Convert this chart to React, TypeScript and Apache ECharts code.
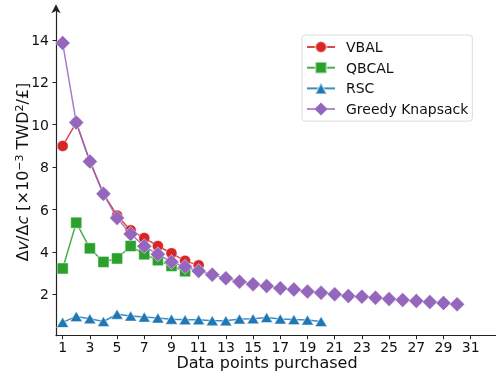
import React, { useEffect, useRef } from "react";
import * as echarts from "echarts";

// Number of data points purchased (x) for each method
const vbalX = [1, 2, 3, 4, 5, 6, 7, 8, 9, 10, 11];
const vbalY = [9.0, 10.1, 8.27, 6.74, 5.72, 5.02, 4.66, 4.28, 3.94, 3.58, 3.37];

const qbcalX = [1, 2, 3, 4, 5, 6, 7, 8, 9, 10];
const qbcalY = [3.22, 5.38, 4.17, 3.53, 3.69, 4.28, 3.89, 3.61, 3.34, 3.09];

const rscX = [1, 2, 3, 4, 5, 6, 7, 8, 9, 10, 11, 12, 13, 14, 15, 16, 17, 18, 19, 20];
const rscY = [0.68, 0.96, 0.85, 0.72, 1.06, 0.98, 0.93, 0.89, 0.83, 0.8, 0.8, 0.76, 0.75, 0.84, 0.85, 0.91, 0.84, 0.81, 0.79, 0.72];

const greedyX = [
  1, 2, 3, 4, 5, 6, 7, 8, 9, 10, 11, 12, 13, 14, 15,
  16, 17, 18, 19, 20, 21, 22, 23, 24, 25, 26, 27, 28, 29, 30,
];
const greedyY = [
  13.85, 10.1, 8.27, 6.74, 5.6, 4.85, 4.27, 3.89, 3.53, 3.3, 3.1, 2.93, 2.76, 2.6, 2.48,
  2.39, 2.29, 2.23, 2.13, 2.07, 2.0, 1.92, 1.89, 1.84, 1.78, 1.73, 1.69, 1.64, 1.59, 1.53,
];

const xTicks = [1, 3, 5, 7, 9, 11, 13, 15, 17, 19, 21, 23, 25, 27, 29, 31];
const yTicks = [2, 4, 6, 8, 10, 12, 14];

const FONT = "DejaVu Sans";

// Legend icon: a short line with a large diamond on it
const DIAMOND_ICON =
  "path://M0 6.25H28V7.75H0Z M14 0.5L20.5 7L14 13.5L7.5 7Z";

const pairs = (xs: number[], ys: number[]) => xs.map((x, i) => [x, ys[i]]);

export default function App() {
  const ref = useRef<HTMLDivElement>(null);

  useEffect(() => {
    if (!ref.current) return;
    const chart = echarts.init(ref.current, undefined, { renderer: "svg" });

    const mk = (
      name: string,
      xs: number[],
      ys: number[],
      color: string,
      symbol: string,
      size: number | number[],
      z: number
    ) => ({
      name,
      type: "line",
      data: pairs(xs, ys),
      symbol,
      symbolSize: size,
      z,
      lineStyle: { color, width: 1.5, opacity: 0.85 },
      itemStyle: {
        color,
        borderColor: "rgba(255,255,255,0.45)",
        borderWidth: 1,
      },
      emphasis: { disabled: true },
    });

    chart.setOption({
      animation: false,
      textStyle: { fontFamily: FONT },
      grid: {
        left: 56,
        right: 0,
        top: 8.3,
        bottom: 37.3,
        containLabel: false,
        outerBoundsMode: "none",
      },
      legend: {
        orient: "vertical",
        left: 302,
        top: 35,
        padding: [4, 4, 4, 4],
        itemWidth: 28,
        itemHeight: 14,
        itemGap: 4.7,
        borderColor: "#dcdcdc",
        borderWidth: 1,
        borderRadius: 3,
        backgroundColor: "rgba(255,255,255,0.8)",
        textStyle: {
          fontFamily: FONT,
          fontSize: 14,
          color: "#111",
          padding: [0, 0, 0, 6],
          lineHeight: 16,
        },
        data: [
          "VBAL",
          "QBCAL",
          "RSC",
          {
            name: "Greedy Knapsack",
            icon: DIAMOND_ICON,
            itemStyle: { color: "#9467bd", borderWidth: 0 },
          },
        ],
      },
      xAxis: {
        type: "value",
        min: 0.51,
        max: 32.86,
        name: "Data points purchased",
        nameLocation: "middle",
        nameGap: 19,
        nameMoveOverlap: false,
        nameTextStyle: {
          fontFamily: FONT,
          fontSize: 16,
          color: "#111",
          padding: [0, 18, 0, 0],
        },
        splitLine: { show: false },
        axisLine: { lineStyle: { color: "#222", width: 1.2 } },
        axisTick: {
          customValues: xTicks,
          length: 3.5,
          lineStyle: { color: "#222" },
        },
        axisLabel: {
          customValues: xTicks,
          fontFamily: FONT,
          fontSize: 14,
          color: "#111",
          margin: 4,
        },
      },
      yAxis: {
        type: "value",
        min: 0.05,
        max: 15.49,
        name:
          "{n|Δ}{i|v}{n|/Δ}{i|c}{n| [×10}{sup|−3}{n| TWD}{sup|2}{n|/£]}",
        nameLocation: "middle",
        nameRotate: 90,
        nameGap: 25,
        nameMoveOverlap: false,
        nameTextStyle: {
          color: "#111",
          rich: {
            n: { fontFamily: FONT, fontSize: 16, color: "#111" },
            i: {
              fontFamily: FONT,
              fontSize: 16,
              fontStyle: "italic",
              color: "#111",
            },
            sup: {
              fontFamily: FONT,
              fontSize: 11,
              color: "#111",
              verticalAlign: "top",
              padding: [0, 0, 6, 0],
            },
          },
        },
        splitLine: { show: false },
        axisLine: {
          show: true,
          lineStyle: { color: "#222", width: 1.2 },
          symbol: ["none", "arrow"],
          symbolSize: [7, 9],
          symbolOffset: [0, 4],
        },
        axisTick: {
          show: true,
          customValues: yTicks,
          length: 3.5,
          lineStyle: { color: "#222" },
        },
        axisLabel: {
          customValues: yTicks,
          fontFamily: FONT,
          fontSize: 14,
          color: "#111",
          margin: 7,
        },
      },
      series: [
        mk("VBAL", vbalX, vbalY, "#d62728", "circle", 11, 2),
        mk("QBCAL", qbcalX, qbcalY, "#2ca02c", "rect", 11, 3),
        mk("RSC", rscX, rscY, "#1f77b4", "triangle", [12, 10], 4),
        mk("Greedy Knapsack", greedyX, greedyY, "#9467bd", "diamond", 15, 5),
      ],
    });

    return () => chart.dispose();
  }, []);

  return (
    <div
      ref={ref}
      style={{ position: "fixed", left: 0, top: 0, width: 496, height: 373 }}
    />
  );
}
